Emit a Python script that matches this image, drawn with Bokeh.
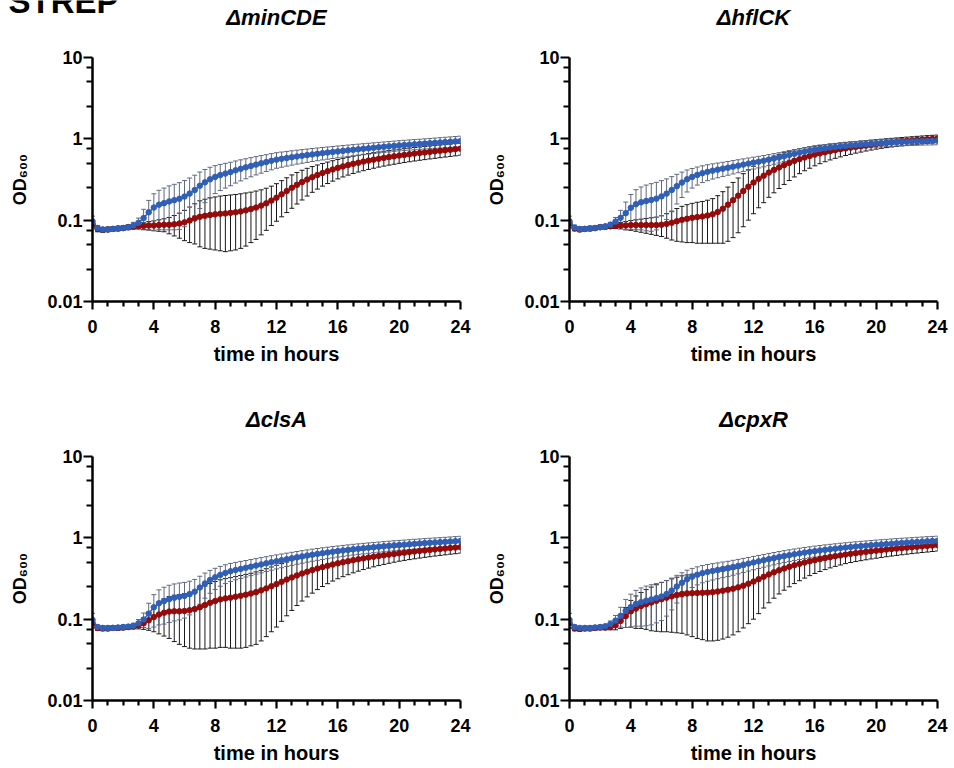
import math
from bokeh.plotting import figure
from bokeh.models import Range1d, FixedTicker, ColumnDataSource, Whisker, TeeHead, Label, Title
from bokeh.layouts import column, row
from bokeh.embed import file_html
from bokeh.resources import INLINE

# sampling times: every 20 minutes from 0 to 24 h
hours = [i / 3 for i in range(73)]

titles = ["\u0394minCDE", "\u0394hflCK", "\u0394clsA", "\u0394cpxR"]
x_label = "time in hours"
y_label = "OD\u2086\u2080\u2080"
x_ticks = [0, 4, 8, 12, 16, 20, 24]
x_minor = [1, 2, 3, 5, 6, 7, 9, 10, 11, 13, 14, 15, 17, 18, 19, 21, 22, 23]
y_ticks = [0.01, 0.1, 1, 10]
y_tick_labels = ["0.01", "0.1", "1", "10"]
y_minor = [0.025, 0.05, 0.075, 0.25, 0.5, 0.75, 2.5, 5, 7.5]

# ---- dminCDE ----
A_blue = [0.097, 0.080, 0.077, 0.077, 0.078, 0.079, 0.080, 0.082, 0.086, 0.093, 0.106, 0.125, 0.143,
          0.155, 0.162, 0.170, 0.176, 0.183, 0.195, 0.212, 0.235, 0.265, 0.292, 0.318, 0.340,
          0.358, 0.374, 0.390, 0.410, 0.428, 0.446, 0.464, 0.482, 0.500, 0.518, 0.537, 0.555,
          0.568, 0.581, 0.594, 0.607, 0.619, 0.631, 0.643, 0.655, 0.667, 0.678, 0.689, 0.700,
          0.711, 0.722, 0.733, 0.744, 0.755, 0.765, 0.776, 0.787, 0.798, 0.808, 0.819, 0.830,
          0.839, 0.848, 0.857, 0.866, 0.875, 0.884, 0.893, 0.902, 0.912, 0.921, 0.930, 0.940]
A_blue_sd = [0.015, 0.006, 0.004, 0.004, 0.004, 0.004, 0.005, 0.006, 0.008, 0.013, 0.030, 0.050, 0.068,
             0.078, 0.086, 0.094, 0.100, 0.106, 0.112, 0.118, 0.122, 0.126, 0.128, 0.129, 0.128,
             0.127, 0.126, 0.125, 0.124, 0.124, 0.123, 0.123, 0.122, 0.122, 0.121, 0.121, 0.120,
             0.120, 0.119, 0.119, 0.118, 0.118, 0.118, 0.117, 0.117, 0.117, 0.116, 0.116, 0.116,
             0.116, 0.116, 0.116, 0.116, 0.116, 0.116, 0.117, 0.117, 0.117, 0.118, 0.118, 0.119,
             0.120, 0.121, 0.122, 0.123, 0.125, 0.127, 0.129, 0.131, 0.133, 0.135, 0.137, 0.140]
A_red = [0.090, 0.078, 0.076, 0.077, 0.078, 0.079, 0.080, 0.082, 0.083, 0.084, 0.085, 0.086, 0.086,
         0.087, 0.088, 0.088, 0.089, 0.091, 0.094, 0.099, 0.105, 0.110, 0.113, 0.116, 0.118,
         0.120, 0.121, 0.123, 0.125, 0.128, 0.132, 0.137, 0.143, 0.151, 0.161, 0.174, 0.189,
         0.208, 0.228, 0.250, 0.272, 0.294, 0.316, 0.338, 0.359, 0.380, 0.400, 0.420, 0.440,
         0.458, 0.476, 0.493, 0.509, 0.525, 0.540, 0.555, 0.569, 0.583, 0.596, 0.609, 0.622,
         0.634, 0.646, 0.658, 0.669, 0.680, 0.691, 0.702, 0.713, 0.724, 0.735, 0.746, 0.757]
A_red_sd = [0.010, 0.006, 0.005, 0.005, 0.005, 0.005, 0.005, 0.005, 0.005, 0.006, 0.008, 0.010, 0.012,
            0.014, 0.016, 0.020, 0.025, 0.031, 0.038, 0.046, 0.054, 0.063, 0.068, 0.072, 0.075,
            0.078, 0.080, 0.081, 0.082, 0.083, 0.084, 0.084, 0.085, 0.085, 0.086, 0.088, 0.092,
            0.098, 0.104, 0.110, 0.114, 0.117, 0.118, 0.118, 0.118, 0.118, 0.118, 0.118, 0.118,
            0.118, 0.118, 0.118, 0.118, 0.119, 0.119, 0.120, 0.120, 0.121, 0.121, 0.122, 0.122,
            0.123, 0.123, 0.124, 0.124, 0.125, 0.125, 0.126, 0.126, 0.127, 0.127, 0.128, 0.128]

# ---- dhflCK ----
B_blue = [0.097, 0.081, 0.078, 0.078, 0.079, 0.080, 0.082, 0.084, 0.088, 0.096, 0.107, 0.122, 0.142,
          0.157, 0.166, 0.172, 0.177, 0.184, 0.196, 0.212, 0.235, 0.262, 0.290, 0.318, 0.340,
          0.360, 0.378, 0.393, 0.406, 0.418, 0.430, 0.442, 0.455, 0.468, 0.482, 0.496, 0.510,
          0.524, 0.538, 0.555, 0.572, 0.590, 0.610, 0.632, 0.654, 0.675, 0.695, 0.716, 0.736,
          0.752, 0.767, 0.781, 0.794, 0.807, 0.819, 0.830, 0.841, 0.851, 0.861, 0.870, 0.879,
          0.887, 0.895, 0.902, 0.909, 0.915, 0.921, 0.926, 0.931, 0.936, 0.940, 0.944, 0.948]
B_blue_sd = [0.015, 0.006, 0.004, 0.004, 0.004, 0.004, 0.004, 0.004, 0.006, 0.012, 0.025, 0.045, 0.065,
             0.080, 0.090, 0.098, 0.104, 0.108, 0.110, 0.110, 0.108, 0.104, 0.100, 0.096, 0.092,
             0.090, 0.088, 0.087, 0.086, 0.086, 0.085, 0.085, 0.085, 0.085, 0.085, 0.085, 0.085,
             0.085, 0.085, 0.085, 0.085, 0.085, 0.085, 0.085, 0.085, 0.085, 0.085, 0.085, 0.085,
             0.085, 0.085, 0.085, 0.085, 0.086, 0.086, 0.087, 0.087, 0.088, 0.088, 0.089, 0.090,
             0.091, 0.092, 0.093, 0.094, 0.095, 0.096, 0.097, 0.098, 0.099, 0.100, 0.101, 0.102]
B_red = [0.092, 0.079, 0.077, 0.078, 0.079, 0.080, 0.082, 0.083, 0.084, 0.085, 0.086, 0.086, 0.087,
         0.087, 0.087, 0.087, 0.087, 0.087, 0.088, 0.090, 0.093, 0.097, 0.101, 0.104, 0.107,
         0.109, 0.111, 0.114, 0.118, 0.126, 0.138, 0.155, 0.176, 0.200, 0.228, 0.258, 0.290,
         0.322, 0.352, 0.385, 0.415, 0.445, 0.475, 0.505, 0.535, 0.563, 0.590, 0.615, 0.640,
         0.663, 0.685, 0.706, 0.726, 0.745, 0.763, 0.780, 0.797, 0.813, 0.830, 0.846, 0.862,
         0.877, 0.891, 0.904, 0.917, 0.929, 0.941, 0.953, 0.965, 0.976, 0.987, 0.997, 1.007]
B_red_sd = [0.010, 0.005, 0.005, 0.005, 0.005, 0.005, 0.005, 0.005, 0.005, 0.006, 0.008, 0.010, 0.012,
            0.014, 0.016, 0.018, 0.020, 0.022, 0.025, 0.030, 0.036, 0.042, 0.047, 0.051, 0.054,
            0.057, 0.059, 0.062, 0.066, 0.074, 0.086, 0.100, 0.115, 0.130, 0.145, 0.158, 0.170,
            0.180, 0.188, 0.194, 0.198, 0.200, 0.200, 0.198, 0.195, 0.190, 0.185, 0.180, 0.174,
            0.168, 0.162, 0.156, 0.150, 0.145, 0.140, 0.135, 0.130, 0.126, 0.122, 0.118, 0.115,
            0.113, 0.111, 0.110, 0.109, 0.108, 0.108, 0.108, 0.108, 0.108, 0.108, 0.108, 0.108]

# ---- dclsA ----
C_blue = [0.098, 0.080, 0.078, 0.078, 0.078, 0.079, 0.080, 0.081, 0.083, 0.089, 0.099, 0.117, 0.140,
          0.157, 0.167, 0.176, 0.183, 0.188, 0.193, 0.203, 0.218, 0.245, 0.275, 0.303, 0.327,
          0.350, 0.370, 0.388, 0.402, 0.415, 0.428, 0.442, 0.456, 0.471, 0.486, 0.501, 0.516,
          0.531, 0.546, 0.561, 0.576, 0.591, 0.606, 0.620, 0.634, 0.648, 0.661, 0.674, 0.687,
          0.699, 0.711, 0.723, 0.734, 0.745, 0.756, 0.767, 0.777, 0.787, 0.797, 0.807, 0.816,
          0.825, 0.834, 0.843, 0.852, 0.861, 0.869, 0.877, 0.885, 0.893, 0.901, 0.909, 0.917]
C_blue_sd = [0.020, 0.005, 0.004, 0.004, 0.004, 0.004, 0.004, 0.004, 0.006, 0.010, 0.020, 0.040, 0.060,
             0.072, 0.080, 0.085, 0.088, 0.090, 0.090, 0.090, 0.090, 0.092, 0.094, 0.095, 0.095,
             0.096, 0.096, 0.097, 0.097, 0.098, 0.098, 0.099, 0.099, 0.100, 0.100, 0.101, 0.101,
             0.102, 0.102, 0.103, 0.103, 0.104, 0.104, 0.105, 0.105, 0.106, 0.106, 0.107, 0.107,
             0.108, 0.108, 0.109, 0.109, 0.110, 0.110, 0.111, 0.111, 0.112, 0.112, 0.113, 0.113,
             0.114, 0.115, 0.116, 0.117, 0.118, 0.119, 0.120, 0.121, 0.122, 0.124, 0.126, 0.128]
C_red = [0.090, 0.078, 0.077, 0.077, 0.078, 0.078, 0.079, 0.080, 0.081, 0.084, 0.089, 0.097, 0.106,
         0.114, 0.120, 0.124, 0.125, 0.125, 0.126, 0.129, 0.133, 0.140, 0.149, 0.159, 0.167,
         0.175, 0.180, 0.184, 0.189, 0.194, 0.200, 0.207, 0.215, 0.226, 0.239, 0.254, 0.270,
         0.288, 0.307, 0.326, 0.345, 0.364, 0.383, 0.401, 0.419, 0.436, 0.453, 0.470, 0.486,
         0.501, 0.516, 0.531, 0.545, 0.559, 0.572, 0.585, 0.598, 0.610, 0.622, 0.634, 0.646,
         0.657, 0.668, 0.679, 0.690, 0.700, 0.710, 0.720, 0.730, 0.740, 0.750, 0.759, 0.768]
C_red_sd = [0.010, 0.005, 0.005, 0.005, 0.005, 0.005, 0.005, 0.005, 0.005, 0.008, 0.014, 0.024, 0.036,
            0.048, 0.058, 0.066, 0.072, 0.076, 0.080, 0.085, 0.090, 0.097, 0.106, 0.115, 0.123,
            0.130, 0.135, 0.140, 0.145, 0.150, 0.155, 0.160, 0.166, 0.172, 0.178, 0.184, 0.190,
            0.194, 0.197, 0.198, 0.198, 0.197, 0.195, 0.192, 0.188, 0.184, 0.180, 0.176, 0.172,
            0.168, 0.164, 0.160, 0.156, 0.152, 0.148, 0.145, 0.142, 0.139, 0.136, 0.133, 0.130,
            0.129, 0.128, 0.127, 0.126, 0.125, 0.124, 0.123, 0.122, 0.122, 0.121, 0.121, 0.120]

# ---- dcpxR ----
D_blue = [0.098, 0.080, 0.078, 0.078, 0.078, 0.079, 0.080, 0.082, 0.087, 0.096, 0.110, 0.127, 0.141,
          0.154, 0.162, 0.169, 0.175, 0.182, 0.190, 0.204, 0.225, 0.252, 0.280, 0.310, 0.333,
          0.352, 0.368, 0.381, 0.392, 0.403, 0.414, 0.425, 0.438, 0.452, 0.467, 0.482, 0.498,
          0.514, 0.530, 0.547, 0.563, 0.580, 0.596, 0.612, 0.628, 0.643, 0.658, 0.672, 0.686,
          0.699, 0.712, 0.724, 0.736, 0.748, 0.759, 0.770, 0.781, 0.791, 0.801, 0.811, 0.821,
          0.830, 0.839, 0.848, 0.857, 0.866, 0.874, 0.882, 0.890, 0.898, 0.906, 0.913, 0.920]
D_blue_sd = [0.020, 0.005, 0.004, 0.004, 0.004, 0.004, 0.004, 0.004, 0.008, 0.015, 0.030, 0.048, 0.062,
             0.072, 0.080, 0.086, 0.090, 0.092, 0.094, 0.095, 0.095, 0.094, 0.092, 0.090, 0.088,
             0.088, 0.088, 0.088, 0.089, 0.089, 0.090, 0.090, 0.091, 0.091, 0.092, 0.092, 0.093,
             0.094, 0.095, 0.096, 0.097, 0.098, 0.099, 0.100, 0.101, 0.102, 0.103, 0.104, 0.105,
             0.106, 0.107, 0.108, 0.109, 0.110, 0.111, 0.112, 0.113, 0.114, 0.115, 0.116, 0.117,
             0.118, 0.119, 0.120, 0.121, 0.122, 0.123, 0.124, 0.125, 0.126, 0.127, 0.128, 0.129]
D_red = [0.090, 0.077, 0.076, 0.077, 0.077, 0.078, 0.079, 0.079, 0.080, 0.084, 0.095, 0.109, 0.125,
         0.135, 0.145, 0.153, 0.160, 0.168, 0.176, 0.184, 0.191, 0.198, 0.204, 0.207, 0.209,
         0.210, 0.211, 0.212, 0.215, 0.219, 0.224, 0.230, 0.237, 0.246, 0.258, 0.273, 0.290,
         0.310, 0.332, 0.355, 0.377, 0.399, 0.420, 0.440, 0.460, 0.479, 0.497, 0.515, 0.532,
         0.548, 0.564, 0.579, 0.594, 0.608, 0.622, 0.635, 0.648, 0.660, 0.672, 0.684, 0.695,
         0.706, 0.717, 0.727, 0.737, 0.747, 0.757, 0.767, 0.777, 0.786, 0.795, 0.804, 0.813]
D_red_sd = [0.012, 0.005, 0.005, 0.005, 0.005, 0.005, 0.005, 0.005, 0.006, 0.010, 0.018, 0.030, 0.045,
            0.058, 0.068, 0.078, 0.088, 0.097, 0.106, 0.114, 0.122, 0.130, 0.137, 0.143, 0.148,
            0.152, 0.155, 0.158, 0.161, 0.164, 0.167, 0.170, 0.173, 0.176, 0.180, 0.185, 0.190,
            0.193, 0.195, 0.196, 0.196, 0.195, 0.193, 0.190, 0.186, 0.182, 0.177, 0.172, 0.167,
            0.162, 0.157, 0.152, 0.148, 0.144, 0.140, 0.138, 0.137, 0.136, 0.135, 0.134, 0.133,
            0.132, 0.131, 0.130, 0.129, 0.128, 0.128, 0.127, 0.127, 0.126, 0.126, 0.125, 0.125]

BLUE = "#2f5fb7"
RED = "#960a0a"
BLUE_ERR = "#5f6880"
RED_ERR = "#1a1a1a"
FONT = "Liberation Sans"

PANEL_W = 477
FRAME_LEFT = 92
FRAME_W = 368
HEADER_H = 45


def add_series(p, mean, sd, color, err_color):
    src = ColumnDataSource(dict(
        x=hours, y=mean,
        upper=[m + s for m, s in zip(mean, sd)],
        lower=[m - s for m, s in zip(mean, sd)]))
    w = Whisker(source=src, base="x", upper="upper", lower="lower",
                line_color=err_color, line_width=1,
                upper_head=TeeHead(size=5, line_color=err_color, line_width=1),
                lower_head=TeeHead(size=5, line_color=err_color, line_width=1))
    p.add_layout(w)
    p.line("x", "y", source=src, line_color=color, line_width=1.5)
    p.scatter("x", "y", source=src, size=5.5, fill_color=color, line_color=color)


def make_panel(blue, blue_sd, red, red_sd, height, bt, bb, title=None):
    p = figure(width=PANEL_W, height=height, x_range=Range1d(0, 24), y_range=Range1d(0.01, 10),
               y_axis_type="log", output_backend="svg", toolbar_location=None,
               min_border_left=FRAME_LEFT, min_border_right=PANEL_W - FRAME_LEFT - FRAME_W,
               min_border_top=bt, min_border_bottom=bb)
    p.outline_line_color = None
    p.xgrid.visible = False
    p.ygrid.visible = False
    if title is not None:
        p.title = Title(text=title, align="center", text_font=FONT, text_font_style="bold italic",
                        text_font_size="22px", text_color="black", standoff=50)

    p.xaxis.ticker = FixedTicker(ticks=x_ticks, minor_ticks=x_minor)
    p.yaxis.ticker = FixedTicker(ticks=y_ticks, minor_ticks=y_minor)
    p.yaxis.major_label_overrides = {t: s for t, s in zip(y_ticks, y_tick_labels)}
    for ax in (p.xaxis, p.yaxis):
        ax.axis_line_width = 2.5
        ax.axis_line_color = "black"
        ax.major_tick_line_width = 2.2
        ax.minor_tick_line_width = 2.2
        ax.major_tick_line_color = "black"
        ax.minor_tick_line_color = "black"
        ax.major_tick_in = 0
        ax.minor_tick_in = 0
        ax.major_label_text_font = FONT
        ax.major_label_text_font_style = "bold"
        ax.major_label_text_font_size = "18px"
        ax.major_label_text_color = "black"
        ax.axis_label_text_font = FONT
        ax.axis_label_text_font_style = "bold"
        ax.axis_label_text_color = "black"
    p.xaxis.major_tick_out = 8
    p.xaxis.minor_tick_out = 5
    p.yaxis.major_tick_out = 9
    p.yaxis.minor_tick_out = 6
    p.xaxis.major_label_standoff = 10
    p.yaxis.major_label_standoff = 1
    p.xaxis.axis_label = x_label
    p.xaxis.axis_label_text_font_size = "20px"
    p.xaxis.axis_label_standoff = 7
    p.yaxis.axis_label = y_label
    p.yaxis.axis_label_text_font_size = "18px"
    p.yaxis.axis_label_standoff = 14

    add_series(p, red, red_sd, RED, RED_ERR)
    add_series(p, blue, blue_sd, BLUE, BLUE_ERR)
    return p


# header strip holding the figure label and the titles of the upper panels
header = figure(width=2 * PANEL_W, height=HEADER_H, x_range=Range1d(0, 2 * PANEL_W),
                y_range=Range1d(HEADER_H, 0), x_axis_location=None, y_axis_location=None,
                output_backend="svg", toolbar_location=None, min_border=0)
header.outline_line_color = None
header.grid.visible = False
header.add_layout(Label(x=8, y=1, text="STREP", text_align="left", text_baseline="alphabetic",
                        text_font=FONT, text_font_style="bold", text_font_size="33px",
                        text_color="black"))
for i, t in enumerate(titles[:2]):
    header.add_layout(Label(x=i * PANEL_W + FRAME_LEFT + FRAME_W / 2, y=17, text=t,
                            text_align="center", text_baseline="alphabetic", text_font=FONT,
                            text_font_style="bold italic", text_font_size="22px",
                            text_color="black"))

TOP_H = 376 - HEADER_H
BOT_H = 768 - 376
pA = make_panel(A_blue, A_blue_sd, A_red, A_red_sd, TOP_H, 12, TOP_H - 12 - 244)
pB = make_panel(B_blue, B_blue_sd, B_red, B_red_sd, TOP_H, 12, TOP_H - 12 - 244)
pC = make_panel(C_blue, C_blue_sd, C_red, C_red_sd, BOT_H, 80, BOT_H - 80 - 244, title=titles[2])
pD = make_panel(D_blue, D_blue_sd, D_red, D_red_sd, BOT_H, 80, BOT_H - 80 - 244, title=titles[3])

layout = column(header, row(pA, pB), row(pC, pD))
open("out.html", "w").write(file_html(layout, INLINE))
